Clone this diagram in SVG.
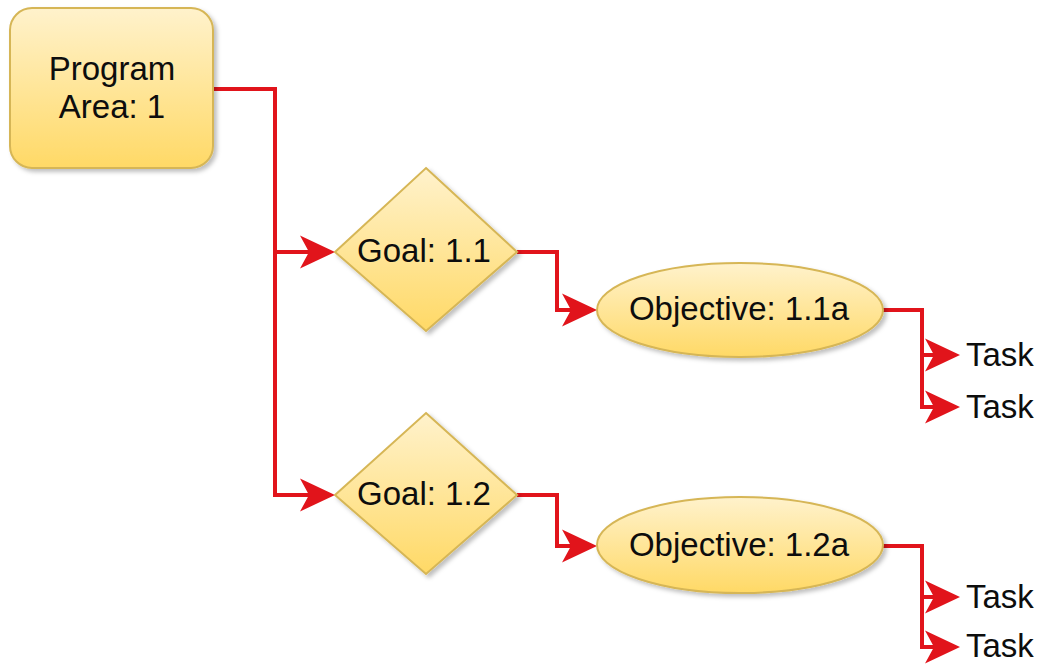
<svg xmlns="http://www.w3.org/2000/svg" width="1046" height="665" viewBox="0 0 1046 665">
<style>
.shape{fill:url(#yg);stroke:#d6b656;stroke-width:2;filter:url(#sh)}
.lbl{font-family:"Liberation Sans",Arial,sans-serif;font-size:33px;fill:#0d0d0d;text-anchor:middle}
.task{font-family:"Liberation Sans",Arial,sans-serif;font-size:33px;fill:#0d0d0d}
.conn{fill:none;stroke:#e1141b;stroke-width:4;marker-end:url(#arr)}
</style>
<defs>
<linearGradient id="yg" x1="0" y1="0" x2="0" y2="1">
<stop offset="0" stop-color="#fff2cc"/>
<stop offset="1" stop-color="#ffd966"/>
</linearGradient>
<filter id="sh" x="-10%" y="-10%" width="130%" height="130%">
<feDropShadow dx="3" dy="3" stdDeviation="2" flood-color="#000" flood-opacity="0.25"/>
</filter>
<marker id="arr" markerUnits="userSpaceOnUse" viewBox="-10 -17 37 34" markerWidth="37" markerHeight="34" refX="0" refY="0" orient="auto">
<path d="M-9,-16.5 L26,0 L-9,16.5 L0,0 Z" fill="#e1141b"/>
</marker>
</defs>
<rect width="1046" height="665" fill="#fff"/>
<g id="connectors">
<path class="conn" d="M213,89 H275 V252 H309"/>
<path class="conn" d="M275,252 V495 H309"/>
<path class="conn" d="M517,252 H557 V310 H571"/>
<path class="conn" d="M517,495 H557 V546 H571"/>
<path class="conn" d="M882,310 H922 V355 H934"/>
<path class="conn" d="M922,355 V407 H934"/>
<path class="conn" d="M882,546 H922 V597 H934"/>
<path class="conn" d="M922,597 V647 H934"/>
</g>
<g id="program-area">
<rect class="shape" x="10" y="8" width="203" height="160" rx="22"/>
<text class="lbl" x="112" y="80">Program</text>
<text class="lbl" x="112" y="118">Area: 1</text>
</g>
<g id="goal-1-1">
<polygon class="shape" points="426,168 517,252 426,331 335,252"/>
<text class="lbl" x="424" y="262">Goal: 1.1</text>
</g>
<g id="goal-1-2">
<polygon class="shape" points="426,413 517,495 426,574 335,495"/>
<text class="lbl" x="424" y="505">Goal: 1.2</text>
</g>
<g id="objective-1-1a">
<ellipse class="shape" cx="740" cy="310" rx="143" ry="47"/>
<text class="lbl" x="739" y="320">Objective: 1.1a</text>
</g>
<g id="objective-1-2a">
<ellipse class="shape" cx="740" cy="545" rx="143" ry="48"/>
<text class="lbl" x="739" y="556">Objective: 1.2a</text>
</g>
<g id="task-1"><text class="task" x="966" y="366">Task</text></g>
<g id="task-2"><text class="task" x="966" y="418">Task</text></g>
<g id="task-3"><text class="task" x="966" y="608">Task</text></g>
<g id="task-4"><text class="task" x="966" y="657">Task</text></g>
</svg>
